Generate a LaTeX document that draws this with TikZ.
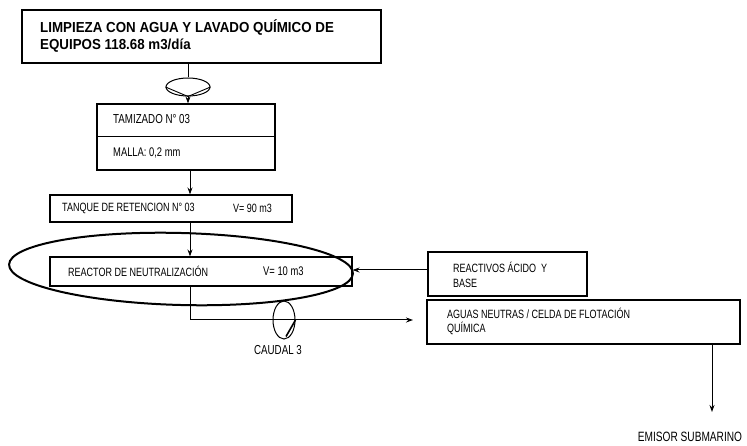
\documentclass[tikz,border=0pt]{standalone}
\usepackage{fontspec}
\setmainfont{Liberation Sans}
\newfontfamily\narrowfont[FakeStretch=0.75]{Liberation Sans}
\newfontfamily\headfont[FakeStretch=0.92]{Liberation Sans}
\usetikzlibrary{arrows.meta,calc,shapes.geometric}
\begin{document}
\begin{tikzpicture}[x=1pt,y=-1pt,
  box/.style={draw,line width=1.1pt},
  lbl/.style={anchor=west,inner sep=0pt,font=\narrowfont\fontsize{12}{14}\selectfont},
  conn/.style={line width=1pt},
  arr/.style={conn,-{Stealth[length=7pt,width=5pt]}}]
\useasboundingbox (0,0) rectangle (747,446);
% top box
\node (topbox) at (201.5,36.5) [box,minimum width=359pt,minimum height=53pt,inner sep=0pt] {};
\node[anchor=west,inner sep=0pt,font=\headfont\bfseries\fontsize{14.5}{16}\selectfont] (t1) at (40,28) {LIMPIEZA CON AGUA Y LAVADO QUÍMICO DE};
\node[anchor=west,inner sep=0pt,font=\headfont\bfseries\fontsize{14.5}{16}\selectfont] (t2) at (40,46) {EQUIPOS 118.68 m3/día};
% valve 1
\node (v1) at (188,87) [ellipse,draw,line width=1pt,minimum width=44pt,minimum height=18pt,inner sep=0pt] {};
\draw[line width=0.9pt] (v1.west) -- (v1.south) -- (v1.east);
\draw[conn] (topbox.south -| v1.north) -- (v1.north);
% tamizado
\node (tam) at (186,137) [box,minimum width=178pt,minimum height=66pt,inner sep=0pt] {};
\draw[line width=1pt] (97,137) -- (275,137);
\node[lbl,font=\narrowfont\fontsize{13}{14}\selectfont] (tam1) at (113,119) {TAMIZADO N° 03};
\node[lbl,font=\narrowfont\fontsize{12.5}{14}\selectfont] (tam2) at (113,153) {MALLA: 0,2 mm};
\draw[arr] (v1.south) -- (tam.north -| v1.south);
% tanque
\node (tan) at (171,208.5) [box,minimum width=242pt,minimum height=27pt,inner sep=0pt] {};
\node[lbl] (tan1) at (62,208.5) {TANQUE DE RETENCION N° 03};
\node[lbl] (tan2) at (233,208.5) {V= 90 m3};
\draw[arr] (tam.south -| 190,0) -- (tan.north -| 190,0);
% reactor
\node (rea) at (201,271.5) [box,minimum width=302pt,minimum height=29pt,inner sep=0pt] {};
\node[lbl] (rea1) at (68,271) {REACTOR DE NEUTRALIZACIÓN};
\node[lbl,font=\narrowfont\fontsize{12.5}{14}\selectfont] (rea2) at (263,271) {V= 10 m3};
\draw[arr] (tan.south -| 190,0) -- (rea.north -| 190,0);
% highlight ellipse
\node (hl) at (181,269) [ellipse,draw,line width=2pt,minimum width=344pt,minimum height=72pt,inner sep=0pt,rotate=-1.5] {};
% reactivos
\node (rct) at (507.5,274) [box,minimum width=159pt,minimum height=44pt,inner sep=0pt] {};
\node[lbl] (rct1) at (453,267) {REACTIVOS ÁCIDO\ \ Y};
\node[lbl] (rct2) at (453,283) {BASE};
\draw[arr] (rct.west |- 0,270) -- (rea.east |- 0,270);
% aguas
\node (agu) at (583.5,322) [box,minimum width=313pt,minimum height=44pt,inner sep=0pt] {};
\node[lbl] (agu1) at (447,313) {AGUAS NEUTRAS / CELDA DE FLOTACIÓN};
\node[lbl] (agu2) at (447,328) {QUÍMICA};
\coordinate (fend) at (413,320);
\draw[arr] (rea.south -| 190,0) |- (fend);
% caudal valve
\node (v2) at (284,320) [ellipse,draw,line width=1pt,minimum width=22pt,minimum height=38pt,inner sep=0pt] {};
\draw[line width=1.6pt] (v2.east) -- ($(v2.south)+(2,-3)$);
\node[lbl,anchor=center,font=\narrowfont\fontsize{13}{14}\selectfont] (cau) at (278,350) {CAUDAL 3};
% emisor
\node[lbl,anchor=center,font=\narrowfont\fontsize{13.5}{14}\selectfont] (emi) at (690,437) {EMISOR SUBMARINO};
\coordinate (eend) at (712,412);
\draw[arr] (agu.south -| eend) -- (eend);
\end{tikzpicture}
\end{document}
